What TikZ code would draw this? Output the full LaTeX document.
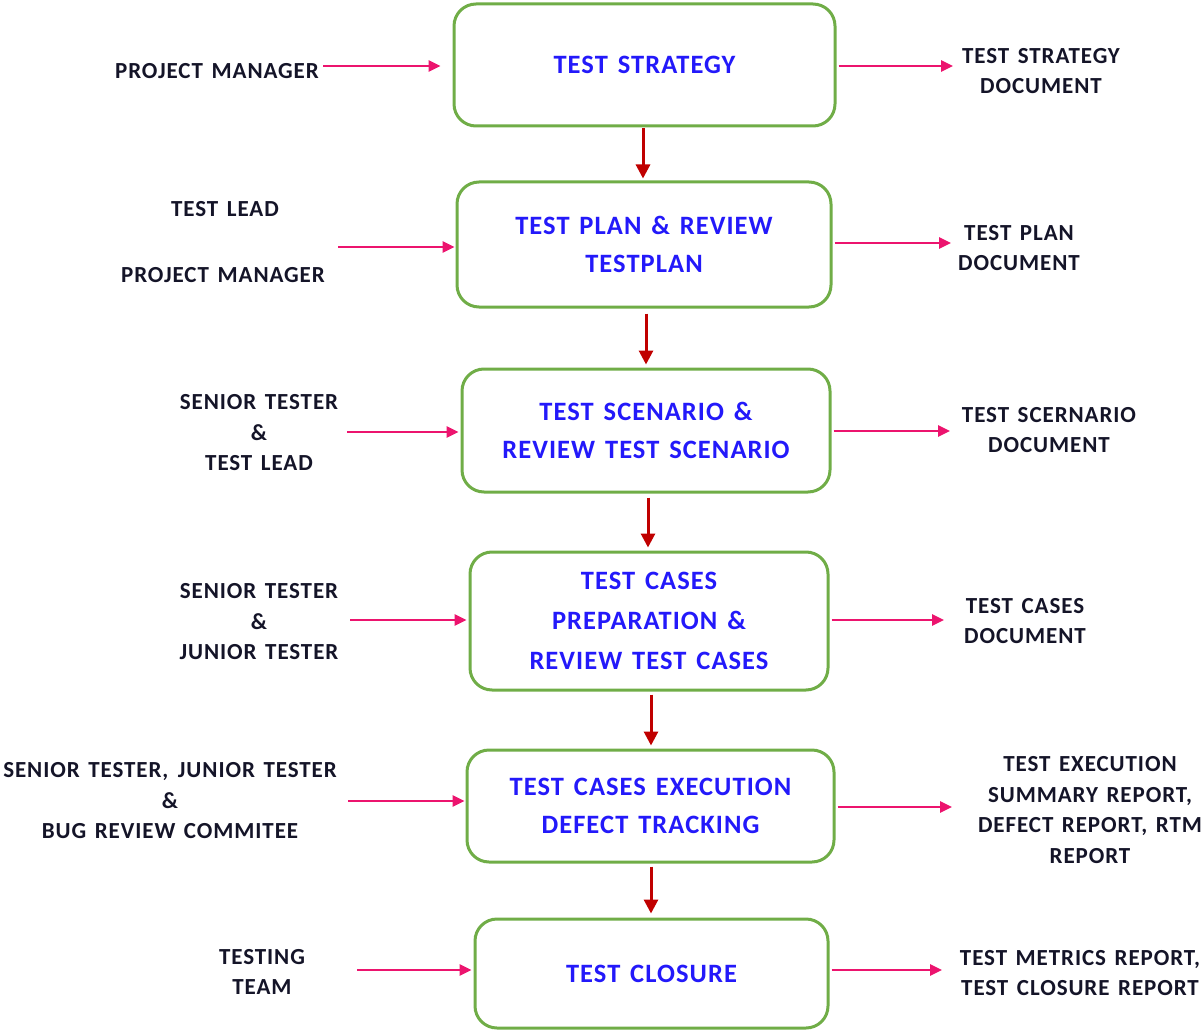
\documentclass[tikz,border=0pt]{standalone}
\usepackage{fontspec}
\setmainfont{Carlito}[LetterSpace=4,WordSpace=1.4]
\usetikzlibrary{arrows.meta}
\definecolor{boxgreen}{RGB}{112,173,71}
\definecolor{stepblue}{RGB}{35,25,250}
\definecolor{flowred}{RGB}{192,0,0}
\definecolor{linkpink}{RGB}{236,20,110}
\definecolor{labelink}{RGB}{20,20,40}
\begin{document}
\begin{tikzpicture}[x=1pt,y=-1pt,
  stagebox/.style={draw=boxgreen,line width=3pt,rounded corners=22pt,fill=white,
    align=center,text=stepblue,font=\bfseries\fontsize{26.5}{37.5}\selectfont,inner sep=0pt},
  rolelabel/.style={align=center,text=labelink,font=\bfseries\fontsize{23}{30.5}\selectfont,inner sep=0pt},
  inlink/.style={draw=linkpink,line width=2.7pt,-{Triangle[length=12pt,width=11pt]}},
  flowlink/.style={draw=flowred,line width=3pt,-{Triangle[length=14pt,width=14pt]}}]
\useasboundingbox (0,0) rectangle (1204,1032);

% process stages
\node[stagebox,minimum width=381pt,minimum height=122pt] (b1) at (644.5,65) {TEST STRATEGY};
\node[stagebox,minimum width=374pt,minimum height=125pt] (b2) at (644,244.5) {TEST PLAN \& REVIEW\\TESTPLAN};
\node[stagebox,minimum width=368pt,minimum height=123pt] (b3) at (646,430.5) {TEST SCENARIO \&\\REVIEW TEST SCENARIO};
\node[stagebox,minimum width=358pt,minimum height=138pt,font=\bfseries\fontsize{26.5}{40}\selectfont] (b4) at (649,621) {TEST CASES\\PREPARATION \&\\REVIEW TEST CASES};
\node[stagebox,minimum width=367pt,minimum height=112pt] (b5) at (650.5,806) {TEST CASES EXECUTION\\DEFECT TRACKING};
\node[stagebox,minimum width=353pt,minimum height=109pt] (b6) at (651.5,973.5) {TEST CLOSURE};

% who takes part
\node[rolelabel] (l1) at (217,71) {PROJECT MANAGER};
\node[rolelabel] (l2a) at (225,209) {TEST LEAD};
\node[rolelabel] (l2b) at (223,275) {PROJECT MANAGER};
\node[rolelabel] (l3) at (259,433) {SENIOR TESTER\\\&\\TEST LEAD};
\node[rolelabel] (l4) at (259,622) {SENIOR TESTER\\\&\\JUNIOR TESTER};
\node[rolelabel] (l5) at (170,801) {SENIOR TESTER, \hspace{1pt}JUNIOR TESTER\\\&\\BUG REVIEW COMMITEE};
\node[rolelabel] (l6) at (262,972) {TESTING\\TEAM};

% what each stage delivers
\node[rolelabel] (r1) at (1041,71) {TEST STRATEGY\\DOCUMENT};
\node[rolelabel] (r2) at (1019,248) {TEST PLAN\\DOCUMENT};
\node[rolelabel] (r3) at (1049,430) {TEST SCERNARIO\\DOCUMENT};
\node[rolelabel] (r4) at (1025,621) {TEST CASES\\DOCUMENT};
\node[rolelabel] (r5) at (1090,810) {TEST EXECUTION\\SUMMARY REPORT,\\DEFECT REPORT,\ RTM\\REPORT};
\node[rolelabel] (r6) at (1080,973) {TEST METRICS REPORT,\\TEST CLOSURE REPORT};

% arrow tails on the left, arrow tips on the right
\coordinate (i1) at (323,66);
\coordinate (i2) at (338,247);
\coordinate (i3) at (347,432);
\coordinate (i4) at (350,620);
\coordinate (i5) at (348,801);
\coordinate (i6) at (357,970);
\coordinate (o1) at (953,66);
\coordinate (o2) at (951,243);
\coordinate (o3) at (950,431);
\coordinate (o4) at (944,620);
\coordinate (o5) at (952,807);
\coordinate (o6) at (942,970);

\draw[inlink,shorten >=12pt] (i1) -- (i1 -| b1.west);
\draw[inlink,shorten >=1pt] (i2) -- (i2 -| b2.west);
\draw[inlink,shorten >=2pt] (i3) -- (i3 -| b3.west);
\draw[inlink,shorten >=2pt] (i4) -- (i4 -| b4.west);
\draw[inlink,shorten >=1pt] (i5) -- (i5 -| b5.west);
\draw[inlink,shorten >=2pt] (i6) -- (i6 -| b6.west);

\draw[inlink,shorten <=2pt] (o1 -| b1.east) -- (o1);
\draw[inlink,shorten <=2pt] (o2 -| b2.east) -- (o2);
\draw[inlink,shorten <=2pt] (o3 -| b3.east) -- (o3);
\draw[inlink,shorten <=2pt] (o4 -| b4.east) -- (o4);
\draw[inlink,shorten <=2pt] (o5 -| b5.east) -- (o5);
\draw[inlink,shorten <=2pt] (o6 -| b6.east) -- (o6);

% flow between stages
\coordinate (d1) at (643,0);
\coordinate (d2) at (646,0);
\coordinate (d3) at (648,0);
\coordinate (d4) at (651,0);
\coordinate (d5) at (651,0);
\draw[flowlink,shorten <=1pt,shorten >=2pt] (b1.south -| d1) -- (b2.north -| d1);
\draw[flowlink,shorten <=5pt,shorten >=3pt] (b2.south -| d2) -- (b3.north -| d2);
\draw[flowlink,shorten <=4pt,shorten >=3pt] (b3.south -| d3) -- (b4.north -| d3);
\draw[flowlink,shorten <=3pt,shorten >=3pt] (b4.south -| d4) -- (b5.north -| d4);
\draw[flowlink,shorten <=3pt,shorten >=4pt] (b5.south -| d5) -- (b6.north -| d5);
\end{tikzpicture}
\end{document}
